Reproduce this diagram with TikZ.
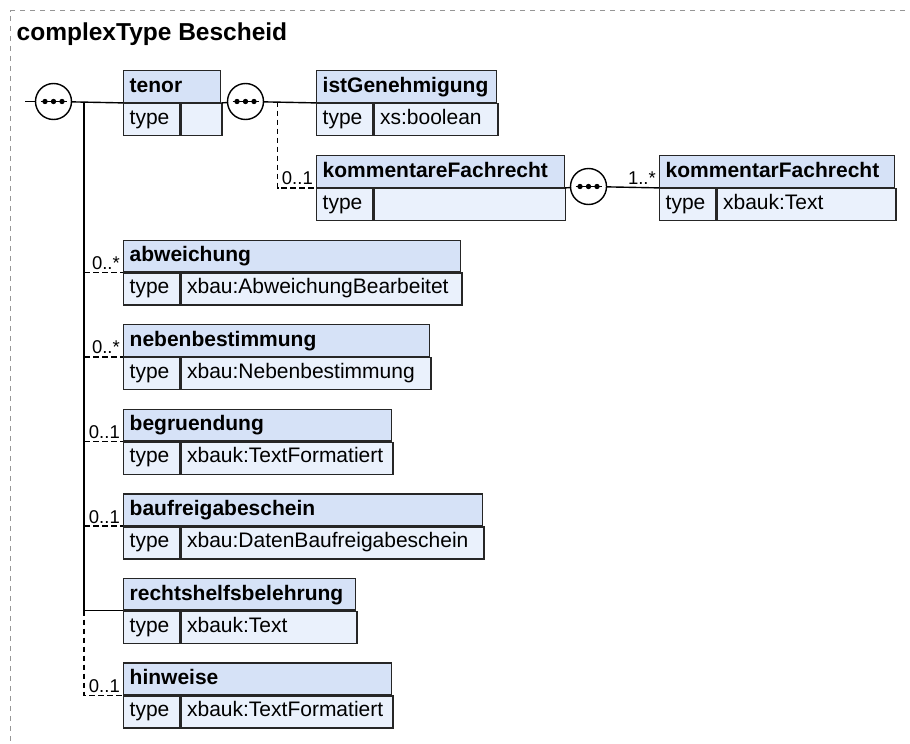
\documentclass[tikz,border=0pt]{standalone}
\usepackage{fontspec}
\setmainfont{Liberation Sans}
\definecolor{hdrcol}{RGB}{214,226,247}
\definecolor{valcol}{RGB}{234,241,252}
\definecolor{frmcol}{RGB}{150,150,150}
\tikzset{
  box/.style={draw=black!85, line width=1.4pt, anchor=north west, inner xsep=6pt, inner ysep=0pt, align=left},
  hdr/.style={box, fill=hdrcol, minimum height=31.5pt, text height=16.25pt, text depth=4.75pt, font=\bfseries\fontsize{21}{24}\selectfont},
  typ/.style={box, fill=valcol, minimum height=32pt, text height=15.25pt, text depth=5.75pt, text width=44pt, font=\fontsize{21}{24}\selectfont},
  val/.style={box, fill=valcol, minimum height=32pt, text height=15.25pt, text depth=5.75pt, font=\fontsize{21}{24}\selectfont},
  seq/.style={circle, draw=black, fill=white, line width=1.4pt, minimum size=36pt, inner sep=0pt},
  conn/.style={line width=1.4pt, black},
  opt/.style={conn, dash pattern=on 5.5pt off 3.5pt},
  mult/.style={anchor=base east, inner sep=0pt, font=\fontsize{18.5}{21}\selectfont},
}
\newcommand{\xelem}[6]{%
  \pgfmathsetmacro\xtwa{#4-12}%
  \pgfmathsetmacro\xtwb{#4-56-12}%
  \node[hdr, text width=\xtwa pt] (#1) at (#2,#3) {\mbox{#5}};
  \node[typ] (#1t) at (#1.south west) {\mbox{type}};
  \node[val, text width=\xtwb pt] (#1v) at (#1t.north east) {\mbox{#6}};
}
\newcommand{\xseq}[3]{%
  \node[seq] (#1) at (#2,#3) {};
  \draw[line width=1.4pt] ([xshift=-13pt]#1.center) -- ([xshift=13pt]#1.center);
  \foreach \d in {-8.5,0,8.5} \fill ([xshift=\d pt]#1.center) circle (2.7pt);
}
\begin{document}
\begin{tikzpicture}[x=1pt,y=-1pt]
\useasboundingbox (0,0) rectangle (910,744);
\fill[white] (0,0) rectangle (910,744);
\draw[frmcol, line width=1pt, dash pattern=on 5pt off 5pt] (915,10.5) -- (10.5,10.5) -- (10.5,750);
\node[anchor=base west, inner sep=0pt, font=\bfseries\fontsize{24.5}{28}\selectfont] (title) at (16.5,40.7) {complexType Bescheid};

\xelem{tenor}{123}{70}{97}{tenor}{}
\xelem{ist}{316}{70}{180}{istGenehmigung}{xs:boolean}
\xelem{komm}{316}{155}{247.5}{kommentareFachrecht}{}
\xelem{kf}{659}{155}{235}{kommentarFachrecht}{xbauk:Text}
\xelem{abw}{123}{239.5}{337}{abweichung}{xbau:AbweichungBearbeitet}
\xelem{neb}{123}{324}{306}{nebenbestimmung}{xbau:Nebenbestimmung}
\xelem{beg}{123}{408.6}{268}{begruendung}{xbauk:TextFormatiert}
\xelem{bauf}{123}{493.2}{359}{baufreigabeschein}{xbau:DatenBaufreigabeschein}
\xelem{recht}{123}{577.8}{232}{rechtshelfsbelehrung}{xbauk:Text}
\xelem{hinw}{123}{662.4}{268}{hinweise}{xbauk:TextFormatiert}

\coordinate (in) at (25,101.5);
\coordinate (b0) at (84,101.5);
\coordinate (b1) at (277.5,101.5);
\xseq{s1}{53.5}{101.5}
\xseq{s2}{245.5}{101.5}
\xseq{s3}{588.5}{186.5}

\draw[conn] (in) -- (s1);
\draw[conn] (s1) -- (tenor.south west);
\draw[conn] (b0) -- (b0 |- recht.south west) -- (recht.south west);
\draw[opt] (b0 |- abw.south west) -- (abw.south west);
\draw[opt] (b0 |- neb.south west) -- (neb.south west);
\draw[opt] (b0 |- beg.south west) -- (beg.south west);
\draw[opt] (b0 |- bauf.south west) -- (bauf.south west);
\draw[opt] (b0 |- recht.south west) -- (b0 |- hinw.south west) -- (hinw.south west);
\draw[conn] (tenor.south east) -- (s2);
\draw[conn] (s2) -- (ist.south west);
\draw[opt] (b1) -- (b1 |- komm.south west) -- (komm.south west);
\draw[conn] (komm.south east) -- (s3);
\draw[conn] (s3) -- (kf.south west);

\node[mult] (lkomm) at ([xshift=-3pt,yshift=3pt]komm.south west) {0..1};
\node[mult] (lkf) at ([xshift=-3pt,yshift=3pt]kf.south west) {1..*};
\node[mult] (labw) at ([xshift=-3pt,yshift=3pt]abw.south west) {0..*};
\node[mult] (lneb) at ([xshift=-3pt,yshift=3pt]neb.south west) {0..*};
\node[mult] (lbeg) at ([xshift=-3pt,yshift=3pt]beg.south west) {0..1};
\node[mult] (lbauf) at ([xshift=-3pt,yshift=3pt]bauf.south west) {0..1};
\node[mult] (lhinw) at ([xshift=-3pt,yshift=3pt]hinw.south west) {0..1};
\end{tikzpicture}
\end{document}
